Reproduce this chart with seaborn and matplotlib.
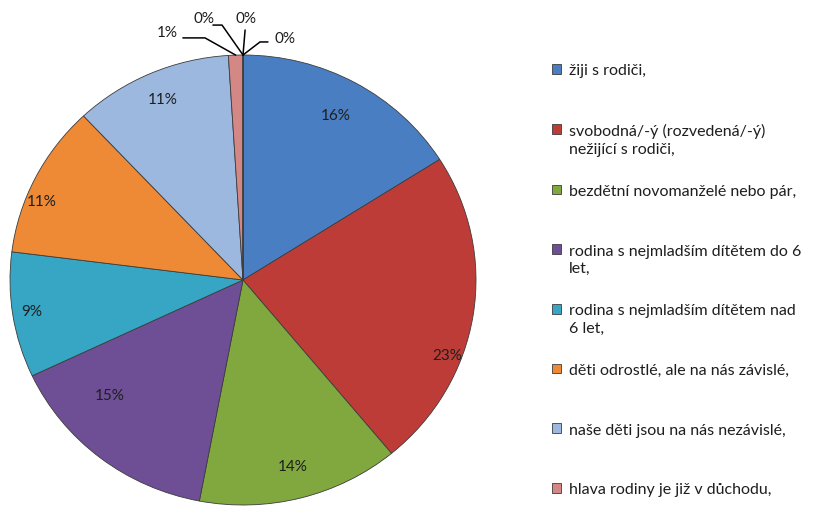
import matplotlib.pyplot as plt
import numpy as np
import seaborn as sns
from matplotlib.legend_handler import HandlerPatch
from matplotlib.patches import Rectangle

# Slice shares in percent, clockwise from 12 o'clock
categories = [
    "žiji s rodiči,",
    "svobodná/-ý (rozvedená/-ý)\nnežijící s rodiči,",
    "bezdětní novomanželé nebo pár,",
    "rodina s nejmladším dítětem do 6\nlet,",
    "rodina s nejmladším dítětem nad\n6 let,",
    "děti odrostlé, ale na nás závislé,",
    "naše děti jsou na nás nezávislé,",
    "hlava rodiny je již v důchodu,",
    "jiné 1",
    "jiné 2",
    "jiné 3",
]
shares = [16, 23, 14, 15, 9, 11, 11, 1, 0, 0, 0]
colors = ["#4A7EC2", "#BE3C38", "#80A83F", "#6E4F96", "#36A6C4",
          "#EE8A36", "#9DB8DF", "#D38886", "#4A7EC2", "#BE3C38", "#80A83F"]
n_legend = 8

sns.set_theme(style="white")
plt.rcParams["font.family"] = ["Lato", "DejaVu Sans"]

fig = plt.figure(figsize=(8.32, 5.19), dpi=100)
fig.patch.set_facecolor("white")
ax = fig.add_axes([10 / 832, 14 / 519, 466 / 832, 450 / 519])

wedges, _ = ax.pie(
    shares,
    colors=colors,
    startangle=90,
    counterclock=False,
    wedgeprops={"edgecolor": "#3c3c3c", "linewidth": 0.6},
)
ax.set_aspect("auto")
ax.set_xlim(-1, 1)
ax.set_ylim(-1, 1)
ax.axis("off")

txt_color = "#1e1e1e"

# labels inside the bigger slices: distance from centre and angle shift (best fit)
label_r = [0.83, 0.94, 0.86, 0.77, 0.92, 0.93, 0.87]
label_shift = [0, -12, 0, -10, 0, 5, 0]
for w, v, r, s in zip(wedges[:7], shares[:7], label_r, label_shift):
    mid = np.deg2rad((w.theta1 + w.theta2) / 2 + s)
    ax.text(r * np.cos(mid), r * np.sin(mid), f"{v:.0f}%", ha="center",
            va="center", fontsize=11, color=txt_color)

# tiny slices at the top get leader lines
leaders = [
    (7, (-0.325, 1.098), [(-0.258, 1.076), (-0.163, 1.076)]),
    (8, (-0.168, 1.16), [(-0.129, 1.133), (-0.09, 1.133)]),
    (9, (0.012, 1.16), [(0.009, 1.111)]),
    (10, (0.18, 1.071), [(0.107, 1.058), (0.073, 1.058)]),
]
for idx, (tx, ty), pts in leaders:
    w = wedges[idx]
    mid = np.deg2rad((w.theta1 + w.theta2) / 2)
    rim = (np.cos(mid), np.sin(mid))
    xs = [p[0] for p in pts] + [rim[0]]
    ys = [p[1] for p in pts] + [rim[1]]
    ax.plot(xs, ys, color="black", lw=1.1, clip_on=False)
    ax.text(tx, ty, f"{shares[idx]:.0f}%", ha="center", va="center",
            fontsize=11, color=txt_color, clip_on=False)


def square_handle(legend, orig_handle, xdescent, ydescent, width, height, fontsize):
    return Rectangle((-xdescent, -ydescent + 8.0), width, height)


labels = [c if "\n" in c else c + "\n " for c in categories[:n_legend]]
leg = fig.legend(
    wedges[:n_legend],
    labels,
    loc="upper left",
    bbox_to_anchor=(538 / 832, 1 - 50 / 519),
    frameon=False,
    fontsize=11.5,
    handlelength=0.57,
    handleheight=0.57,
    handletextpad=0.44,
    labelspacing=1.75,
    handler_map={w: HandlerPatch(patch_func=square_handle) for w in wedges[:n_legend]},
)
for t in leg.get_texts():
    t.set_color(txt_color)
    t.set_linespacing(1.34)

fig.savefig("out.png", dpi=100, facecolor="white")
